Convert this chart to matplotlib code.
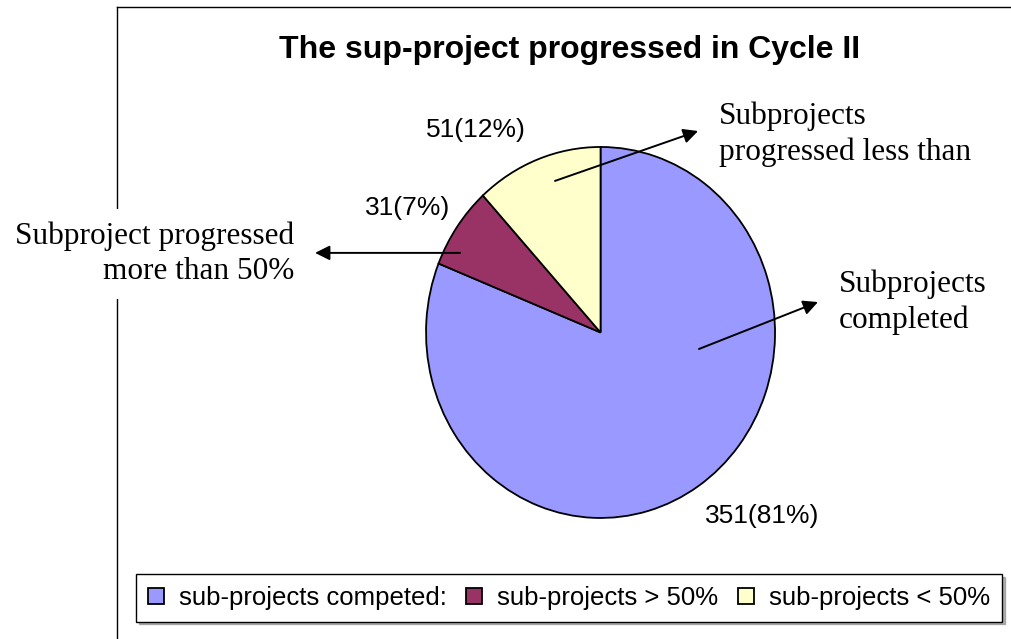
import matplotlib.pyplot as plt
from matplotlib.lines import Line2D

plt.rcParams["font.family"] = ["Liberation Sans", "DejaVu Sans"]

# chart data (clockwise from 12 o'clock)
categories = ["sub-projects competed:", "sub-projects > 50%", "sub-projects < 50%"]
counts = [351, 31, 51]
callouts = ["Subprojects\ncompleted", "Subproject progressed\nmore than 50%", "Subprojects\nprogressed less than"]
colors = ["#9999FF", "#993366", "#FFFFCC"]

total = sum(counts)
pct_labels = [f"{c}({round(100 * c / total)}%)" for c in counts]

# layout (pie data units, radius 1)
label_pos = [(0.927, -0.989), (-1.104, 0.671), (-0.713, 1.092)]
arrow_from = [(0.564, -0.089), (-0.805, 0.429), (-0.261, 0.817)]
arrow_to = [(1.246, 0.164), (-1.636, 0.429), (0.559, 1.086)]
callout_pos = [(1.367, 0.164, "left"), (-1.757, 0.423, "right"), (0.679, 1.070, "left")]

fig = plt.figure(figsize=(10.11, 6.39), dpi=100)

# outer chart frame (only top and left edges are visible)
fig.add_artist(Line2D([0.1157, 1.0], [0.989, 0.989], color="black", lw=1.0, zorder=-1))
fig.add_artist(Line2D([0.1157, 0.1157], [0.0, 0.989], color="black", lw=1.0, zorder=-1))

fig.text(0.5638, 0.9218, "The sup-project progressed in Cycle II",
         ha="center", va="center", fontsize=23, fontweight="bold")

ax = fig.add_axes([0.4214, 0.1894, 0.3452, 0.5806])
ax.patch.set_visible(False)
wedges, _ = ax.pie(counts, colors=colors, startangle=90, counterclock=False,
                   wedgeprops=dict(edgecolor="black", linewidth=1.3))
for w in wedges:
    w.set_clip_on(False)
ax.set_aspect("auto")
ax.set_xlim(-1, 1)
ax.set_ylim(-1, 1)
ax.axis("off")

for txt, (x, y) in zip(pct_labels, label_pos):
    ax.text(x, y, txt, ha="center", va="center", fontsize=19, clip_on=False)

for txt, (x, y, ha) in zip(callouts, callout_pos):
    ax.text(x, y, txt, ha=ha, va="center", multialignment=ha, fontsize=22.5,
            family=["Liberation Serif", "DejaVu Serif"], linespacing=1.28, zorder=4,
            bbox=dict(boxstyle="square,pad=0.4", facecolor="white", edgecolor="none"))

for start, end in zip(arrow_from, arrow_to):
    ax.annotate("", xy=end, xytext=start, annotation_clip=False, zorder=5,
                arrowprops=dict(arrowstyle="-|>", mutation_scale=22, lw=1.4,
                                color="black", shrinkA=0, shrinkB=0))

leg = fig.legend(wedges, categories, ncol=3, loc="center", bbox_to_anchor=(0.5628, 0.0642),
                 fontsize=18.5, frameon=True, fancybox=False, edgecolor="black",
                 handlelength=0.62, handleheight=0.62, handletextpad=0.6, columnspacing=0.75,
                 borderpad=0.45, borderaxespad=0, shadow={"color": "gray", "alpha": 0.6})
leg.get_frame().set_linewidth(1.0)

fig.savefig("out.png", dpi=100)
